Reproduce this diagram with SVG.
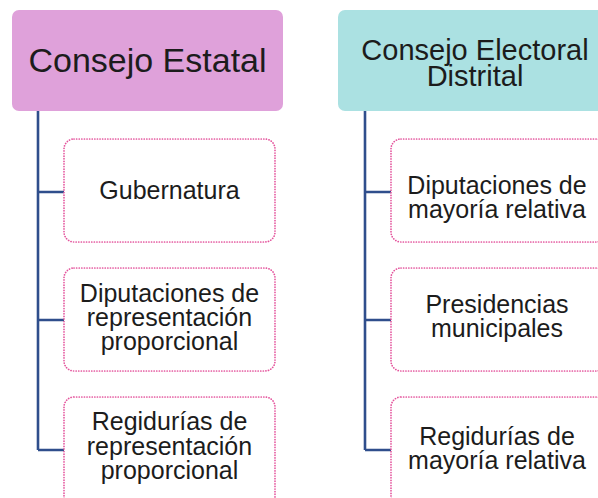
<svg xmlns="http://www.w3.org/2000/svg" width="598" height="498" viewBox="0 0 598 498">
<style>
text{font-family:"Liberation Sans",Arial,sans-serif;fill:#1c1c1c;text-anchor:middle}
.h1{font-size:34px}
.h2{font-size:29px}
.c{font-size:25px}
.box{fill:#fff;stroke:#e4559d;stroke-width:1.7;stroke-dasharray:0.1 2.5;stroke-linecap:round}
.conn{fill:none;stroke:#2f4e8c;stroke-width:2.6}
</style>
<rect width="598" height="498" fill="#fff"/>
<g id="connectors">
<path class="conn" d="M38 111 V450 M38 192 H64 M38 320 H64 M38 450 H64"/>
<path class="conn" d="M365 111 V450 M365 192 H391 M365 320 H391 M365 450 H391"/>
</g>
<g id="consejo-estatal">
<rect x="12" y="10" width="271" height="101" rx="7" fill="#dfa1da"/>
<text class="h1" x="147.5" y="72">Consejo Estatal</text>
</g>
<g id="consejo-distrital">
<rect x="338" y="10" width="270" height="101" rx="7" fill="#abe1e2"/>
<text class="h2" x="475" y="60">Consejo Electoral</text>
<text class="h2" x="475" y="86">Distrital</text>
</g>
<g id="gubernatura">
<rect class="box" x="64" y="139" width="211" height="103" rx="10"/>
<text class="c" x="169.5" y="199">Gubernatura</text>
</g>
<g id="diputaciones-rp">
<rect class="box" x="64" y="268" width="211" height="103" rx="10"/>
<text class="c" x="169.5" y="302">Diputaciones de</text>
<text class="c" x="169.5" y="326">representación</text>
<text class="c" x="169.5" y="350">proporcional</text>
</g>
<g id="regidurias-rp">
<rect class="box" x="64" y="397" width="211" height="110" rx="10"/>
<text class="c" x="169.5" y="430">Regidurías de</text>
<text class="c" x="169.5" y="455">representación</text>
<text class="c" x="169.5" y="479">proporcional</text>
</g>
<g id="diputaciones-mr">
<rect class="box" x="391" y="139" width="215" height="103" rx="10"/>
<text class="c" x="497" y="194">Diputaciones de</text>
<text class="c" x="497" y="218">mayoría relativa</text>
</g>
<g id="presidencias">
<rect class="box" x="391" y="268" width="215" height="103" rx="10"/>
<text class="c" x="497" y="313">Presidencias</text>
<text class="c" x="497" y="337">municipales</text>
</g>
<g id="regidurias-mr">
<rect class="box" x="391" y="397" width="215" height="110" rx="10"/>
<text class="c" x="497" y="445">Regidurías de</text>
<text class="c" x="497" y="469">mayoría relativa</text>
</g>
</svg>
